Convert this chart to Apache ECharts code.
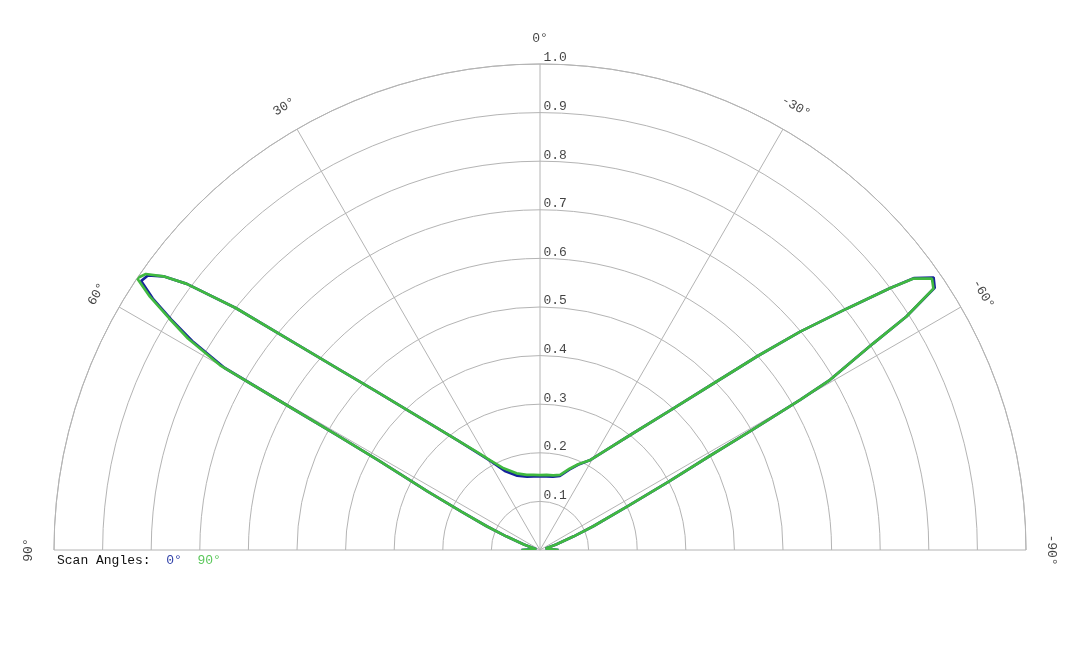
<!DOCTYPE html>
<html>
<head>
<meta charset="utf-8">
<script src="https://cdn.jsdelivr.net/npm/echarts@6/dist/echarts.min.js"></script>
<style>
  html, body { margin: 0; padding: 0; background: #ffffff; }
  #chart { width: 1080px; height: 648px; }
</style>
</head>
<body>
<div id="chart"></div>
<script>
// ---- data ----
const angles = [90, 85, 80, 75, 71, 68, 66, 64, 62.5, 61.5, 61, 60.5, 60.2, 60, 59, 58, 57, 56, 55, 54, 53, 51.5, 49.7, 48, 46, 43, 40, 37, 33, 29, 24, 17, 10, 5, 0,
  -5, -10, -15, -20, -24, -29, -33, -38, -43, -46, -48.3, -50, -51.8, -53.2, -54, -55.3, -56.4, -57.5, -58.2, -59.6, -60, -60.5, -61, -62, -63.5, -66, -68, -71, -75, -80, -85, -90];

const scan0 = [0.038, 0.015, 0.008, 0.012, 0.035, 0.075, 0.12, 0.18, 0.26, 0.33, 0.38, 0.48, 0.62, 0.75, 0.835, 0.895, 0.95, 0.99, 0.985, 0.958, 0.91, 0.80, 0.65, 0.553, 0.472, 0.385, 0.326, 0.283, 0.24, 0.209, 0.178, 0.16, 0.153, 0.152, 0.152,
  0.152, 0.153, 0.158, 0.176, 0.192, 0.211, 0.242, 0.299, 0.393, 0.488, 0.60, 0.699, 0.803, 0.899, 0.952, 0.985, 0.975, 0.894, 0.807, 0.692, 0.618, 0.50, 0.40, 0.30, 0.20, 0.12, 0.075, 0.035, 0.012, 0.008, 0.015, 0.038];

const scan90 = [0.038, 0.015, 0.008, 0.012, 0.035, 0.075, 0.12, 0.18, 0.26, 0.33, 0.38, 0.48, 0.62, 0.76, 0.845, 0.90, 0.957, 1.0, 0.99, 0.958, 0.91, 0.80, 0.65, 0.553, 0.472, 0.385, 0.326, 0.283, 0.242, 0.211, 0.184, 0.165, 0.157, 0.155, 0.154,
  0.155, 0.156, 0.160, 0.178, 0.193, 0.211, 0.242, 0.299, 0.393, 0.488, 0.60, 0.699, 0.803, 0.899, 0.95, 0.981, 0.972, 0.894, 0.807, 0.692, 0.618, 0.50, 0.40, 0.30, 0.20, 0.12, 0.075, 0.035, 0.012, 0.008, 0.015, 0.038];

const seriesNames = ['0°', '90°'];
const angleTicks = [90, 60, 30, 0, -30, -60, -90];
const radiusTicks = [0.1, 0.2, 0.3, 0.4, 0.5, 0.6, 0.7, 0.8, 0.9, 1.0];
const legendTitle = 'Scan Angles:';

// ---- styles ----
const FONT = 'Liberation Mono';
const TEXT = '#111';
const GRID = '#b4b4b4';
const BLUE = '#16239a';
const GREEN = '#40b940';
const LABEL_R = 1.053;

const chart = echarts.init(document.getElementById('chart'), null, { renderer: 'canvas' });

function pairs(rs) { return rs.map((r, i) => [r, angles[i]]); }

const option = {
  animation: false,
  backgroundColor: '#ffffff',
  title: {
    left: 57, top: 554, padding: 0,
    text: legendTitle + '  {s0|' + seriesNames[0] + '}  {s1|' + seriesNames[1] + '}',
    textStyle: {
      fontFamily: FONT, fontSize: 13, fontWeight: 'normal', color: TEXT,
      rich: {
        s0: { fontFamily: FONT, fontSize: 13, color: '#3344aa' },
        s1: { fontFamily: FONT, fontSize: 13, color: '#5cc85c' }
      }
    }
  },
  polar: { center: [540, 550], radius: 486 },
  angleAxis: {
    type: 'value', min: -90, max: 90, interval: 30,
    startAngle: 0, endAngle: 180, clockwise: false,
    axisLine: { show: true, lineStyle: { color: GRID, width: 1 } },
    axisTick: { show: false },
    axisLabel: { show: false },
    splitLine: { show: true, lineStyle: { color: GRID, width: 1 } }
  },
  radiusAxis: {
    type: 'value', min: 0, max: 1, interval: 0.1,
    axisLine: { show: false },
    axisTick: { show: false },
    axisLabel: { show: false },
    splitLine: { show: true, lineStyle: { color: GRID, width: 1 } }
  },
  series: [
    {
      name: seriesNames[0], type: 'line', coordinateSystem: 'polar',
      data: pairs(scan0), symbol: 'none', smooth: false, clip: false,
      lineStyle: { color: BLUE, width: 2.7 }, z: 3
    },
    {
      name: seriesNames[1], type: 'line', coordinateSystem: 'polar',
      data: pairs(scan90), symbol: 'none', smooth: false, clip: false,
      lineStyle: { color: GREEN, width: 2.7 }, z: 4
    },
    {
      type: 'scatter', coordinateSystem: 'polar', clip: false, silent: true,
      symbolSize: 1, itemStyle: { color: 'rgba(0,0,0,0)' },
      data: radiusTicks.map(r => ({ value: [r, 0], label: { formatter: r.toFixed(1) } })),
      label: { show: true, position: [4, -12], fontFamily: FONT, fontSize: 13, color: TEXT },
      z: 5
    },
    {
      type: 'scatter', coordinateSystem: 'polar', clip: false, silent: true,
      symbolSize: 1, itemStyle: { color: 'rgba(0,0,0,0)' },
      data: angleTicks.map(a => ({ value: [LABEL_R, a], label: { formatter: a + '°', rotate: a } })),
      label: { show: true, position: 'inside', fontFamily: FONT, fontSize: 13, color: TEXT },
      z: 5
    }
  ]
};
chart.setOption(option);
</script>
</body>
</html>
